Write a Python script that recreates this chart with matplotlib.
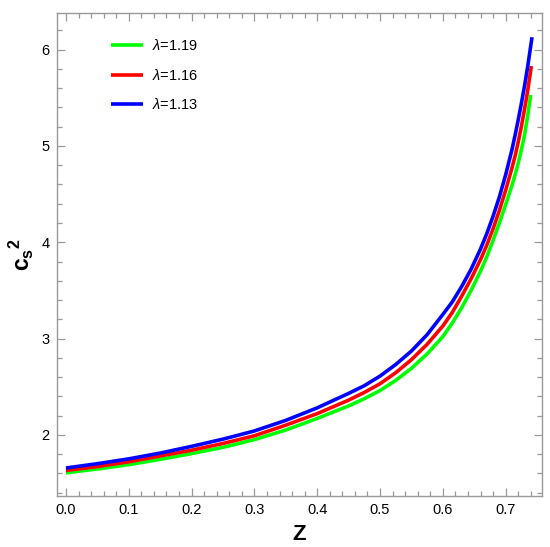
import matplotlib
matplotlib.use("Agg")
import matplotlib.pyplot as plt
from matplotlib.ticker import MultipleLocator

plt.rcParams['font.family'] = ['Liberation Sans', 'DejaVu Sans']
plt.rcParams['mathtext.fontset'] = 'custom'
plt.rcParams['mathtext.rm'] = 'Liberation Sans'
plt.rcParams['mathtext.it'] = 'Liberation Sans:italic'
plt.rcParams['mathtext.bf'] = 'Liberation Sans:bold'

# values
z_vals = [0.0, 0.05, 0.1, 0.15, 0.2, 0.25, 0.3, 0.35, 0.4, 0.45,
          0.475, 0.5, 0.525, 0.55, 0.575, 0.6, 0.615, 0.63, 0.645, 0.66,
          0.67, 0.68, 0.69, 0.70, 0.71, 0.715, 0.72, 0.725, 0.73, 0.735]
z_end = [0.740, 0.741, 0.742]

cs2_119 = [1.605, 1.645, 1.69, 1.745, 1.805, 1.87, 1.95, 2.05, 2.17, 2.30,
           2.375, 2.46, 2.565, 2.69, 2.84, 3.02, 3.16, 3.32, 3.50, 3.70,
           3.85, 4.02, 4.20, 4.39, 4.59, 4.70, 4.82, 4.96, 5.11, 5.31, 5.53]
cs2_116 = [1.63, 1.67, 1.72, 1.78, 1.84, 1.91, 1.99, 2.10, 2.22, 2.36,
           2.44, 2.53, 2.645, 2.78, 2.94, 3.13, 3.27, 3.44, 3.62, 3.82,
           3.97, 4.14, 4.33, 4.54, 4.77, 4.895, 5.04, 5.20, 5.38, 5.57, 5.83]
cs2_113 = [1.655, 1.70, 1.75, 1.81, 1.88, 1.955, 2.04, 2.15, 2.28, 2.43,
           2.51, 2.61, 2.73, 2.87, 3.04, 3.25, 3.38, 3.54, 3.72, 3.93,
           4.09, 4.27, 4.47, 4.70, 4.96, 5.11, 5.27, 5.44, 5.62, 5.82, 6.13]

labels = [r"$\lambda$=1.19", r"$\lambda$=1.16", r"$\lambda$=1.13"]
colors = ["#00ff00", "#ff0000", "#0000ff"]
series = [cs2_119, cs2_116, cs2_113]

fig = plt.figure(figsize=(5.5, 5.47), dpi=100)
ax = fig.add_axes([0.103, 0.093, 0.882, 0.883])

for s, zend, c, lab in zip(series, z_end, colors, labels):
    ax.plot(z_vals + [zend], s, color=c, lw=2.6, label=lab,
            solid_capstyle='butt', solid_joinstyle='round')

ax.set_xlim(-0.0148, 0.7575)
ax.set_ylim(1.363, 6.38)

ax.xaxis.set_major_locator(MultipleLocator(0.1))
ax.xaxis.set_minor_locator(MultipleLocator(0.02))
ax.yaxis.set_major_locator(MultipleLocator(1))
ax.yaxis.set_minor_locator(MultipleLocator(0.2))
ax.xaxis.set_major_formatter(plt.FormatStrFormatter('%.1f'))

ax.tick_params(which='both', direction='in', top=True, right=True,
               color='#999999', labelsize=10.5, labelcolor='black', width=0.9)
ax.tick_params(which='major', length=6, pad=5)
ax.tick_params(which='minor', length=3.5)
for sp in ax.spines.values():
    sp.set_color('#999999')
    sp.set_linewidth(1.0)

ax.set_xlabel("Z", fontsize=16, fontweight='bold', labelpad=5)
ax.set_ylabel(r"$\mathbf{c_s}^{\mathbf{2}}$", fontsize=16.5, labelpad=4)

ax.legend(loc='upper left', bbox_to_anchor=(0.112, 0.948), frameon=False,
          borderpad=0, borderaxespad=0, handlelength=2.2, handletextpad=0.6,
          labelspacing=1.0, fontsize=10.5)

fig.savefig("out.png", dpi=100)
